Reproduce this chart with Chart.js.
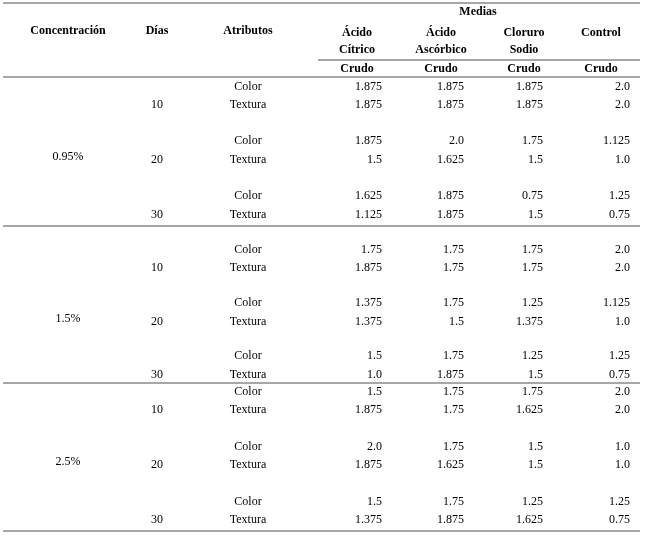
<!DOCTYPE html>
<html>
<head>
<meta charset="utf-8">
<script src="https://cdn.jsdelivr.net/npm/chart.js@4"></script>
<style>
  html, body { margin: 0; padding: 0; background: #fff; }
  #wrap { width: 648px; height: 536px; }
</style>
</head>
<body>
<div id="wrap"><canvas id="myChart"></canvas></div>
<script>
// table data
const concentraciones = ['0.95%', '1.5%', '2.5%'];
const dias = ['10', '20', '30'];
const atributos = ['Color', 'Textura'];
const tratamientos = [['Ácido', 'Cítrico'], ['Ácido', 'Ascórbico'], ['Cloruro', 'Sodio'], ['Control']];
const subHeader = 'Crudo';

// one row per (concentración, día, atributo): acido citrico, acido ascorbico, cloruro sodio, control
const acidoCitrico = ['1.875', '1.875', '1.875', '1.5', '1.625', '1.125',
  '1.75', '1.875', '1.375', '1.375', '1.5', '1.0',
  '1.5', '1.875', '2.0', '1.875', '1.5', '1.375'];
const acidoAscorbico = ['1.875', '1.875', '2.0', '1.625', '1.875', '1.875',
  '1.75', '1.75', '1.75', '1.5', '1.75', '1.875',
  '1.75', '1.75', '1.75', '1.625', '1.75', '1.875'];
const cloruroSodio = ['1.875', '1.875', '1.75', '1.5', '0.75', '1.5',
  '1.75', '1.75', '1.25', '1.375', '1.25', '1.5',
  '1.75', '1.625', '1.5', '1.5', '1.25', '1.625'];
const control = ['2.0', '2.0', '1.125', '1.0', '1.25', '0.75',
  '2.0', '2.0', '1.125', '1.0', '1.25', '0.75',
  '2.0', '2.0', '1.0', '1.0', '1.25', '0.75'];
const columnas = [acidoCitrico, acidoAscorbico, cloruroSodio, control];

// layout (table coordinates, px-like units on the scales)
const rowY = [87, 105, 141, 160, 196, 215, 250, 268, 303, 322, 356, 375, 392, 410, 447, 465, 502, 520];
const colRight = [382, 464, 543, 630];
const colCenter = [357, 441, 524, 601];
const hLines = [[3, 640, 3], [318, 640, 60], [3, 640, 77], [3, 640, 226], [3, 640, 383], [3, 640, 531]];

const tablePlugin = {
  id: 'table',
  afterDraw(chart) {
    const c = chart.ctx, x = chart.scales.x, y = chart.scales.y;
    const X = v => x.getPixelForValue(v), Y = v => y.getPixelForValue(v);
    c.save();
    c.fillStyle = '#000';
    c.textBaseline = 'middle';
    const txt = (s, px, py, align, bold) => {
      c.font = (bold ? 'bold ' : '') + '12px "Liberation Serif"';
      c.textAlign = align;
      c.fillText(s, X(px), Y(py));
    };
    // header
    txt('Medias', 478, 12, 'center', true);
    txt('Concentración', 68, 31, 'center', true);
    txt('Días', 157, 31, 'center', true);
    txt('Atributos', 248, 31, 'center', true);
    tratamientos.forEach((t, i) => {
      if (t.length === 1) txt(t[0], colCenter[i], 33, 'center', true);
      else { txt(t[0], colCenter[i], 33, 'center', true); txt(t[1], colCenter[i], 50, 'center', true); }
      txt(subHeader, colCenter[i], 69, 'center', true);
    });
    // body
    rowY.forEach((ry, r) => {
      txt(atributos[r % 2], 248, ry, 'center', false);
      columnas.forEach((col, i) => txt(col[r], colRight[i], ry, 'right', false));
      if (r % 2 === 1) txt(dias[Math.floor(r / 2) % 3], 157, ry, 'center', false);
    });
    concentraciones.forEach((k, g) => txt(k, 68, rowY[g * 6 + 3] - 3, 'center', false));
    // rules
    c.strokeStyle = '#8a8a8a';
    c.lineWidth = 1.5;
    hLines.forEach(l => {
      c.beginPath();
      c.moveTo(X(l[0]), Y(l[2]));
      c.lineTo(X(l[1]), Y(l[2]));
      c.stroke();
    });
    c.restore();
  }
};

new Chart(document.getElementById('myChart'), {
  type: 'scatter',
  data: { datasets: [{ data: [] }] },
  options: {
    responsive: true,
    maintainAspectRatio: false,
    animation: false,
    layout: { padding: 0 },
    plugins: { legend: { display: false }, tooltip: { enabled: false } },
    scales: {
      x: { type: 'linear', min: 0, max: 648, display: false },
      y: { type: 'linear', min: 0, max: 536, reverse: true, display: false }
    }
  },
  plugins: [tablePlugin]
});
</script>
</body>
</html>
